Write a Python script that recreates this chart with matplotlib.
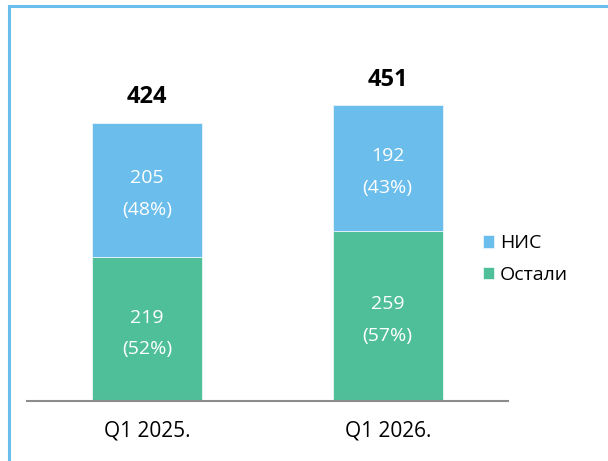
import matplotlib.pyplot as plt
from matplotlib.lines import Line2D

plt.rcParams['font.family'] = ['Open Sans', 'DejaVu Sans']

# данни
categories = ['Q1 2025.', 'Q1 2026.']
nis = [205, 192]
others = [219, 259]
nis_pct = ['48%', '43%']
others_pct = ['52%', '57%']
totals = [424, 451]

blue = '#6BBDEB'
green = '#4FBF99'

fig = plt.figure(figsize=(6.08, 4.61), dpi=100)
ax = fig.add_axes([0.0444, 0.130, 0.791, 0.7115])

x = range(len(categories))
ax.bar(x, others, width=0.456, color=green, edgecolor='#E8F6F0', linewidth=0.6, label='Остали')
ax.bar(x, nis, width=0.456, bottom=others, color=blue, edgecolor='#E8F4FC', linewidth=0.6, label='НИС')

for i in x:
    ax.text(i, others[i] / 2 - 6, f'{others[i]}\n({others_pct[i]})', ha='center', va='center',
            color='white', fontsize=14, linespacing=1.95)
    ax.text(i, others[i] + nis[i] / 2 - 6, f'{nis[i]}\n({nis_pct[i]})', ha='center', va='center',
            color='white', fontsize=14, linespacing=1.95)
    ax.text(i, totals[i] + 39, str(totals[i]), ha='center', va='center',
            fontsize=17, fontweight='bold', color='black')

ax.set_xlim(-0.5, 1.5)
ax.set_ylim(0, 500)
ax.set_xticks(list(x))
ax.set_xticklabels(categories, fontsize=15)
ax.tick_params(axis='x', length=0, pad=14)
ax.set_yticks([])
for s in ['top', 'right', 'left']:
    ax.spines[s].set_visible(False)
ax.spines['bottom'].set_color('#8C8C8C')
ax.spines['bottom'].set_linewidth(1.5)

# легенда
handles, labels = ax.get_legend_handles_labels()
leg = fig.legend(handles[::-1], labels[::-1], loc='center left', bbox_to_anchor=(0.765, 0.438),
                 frameon=False, fontsize=14, handlelength=0.6, handleheight=0.6,
                 handletextpad=0.3, labelspacing=0.7)

# рамка
fig.add_artist(Line2D([0.0148, 0.0148], [0, 0.987], color='#6BBDEB', linewidth=2.2))
fig.add_artist(Line2D([0.0148, 1.0], [0.987, 0.987], color='#6BBDEB', linewidth=2.2))

plt.savefig('out.png', dpi=100)
